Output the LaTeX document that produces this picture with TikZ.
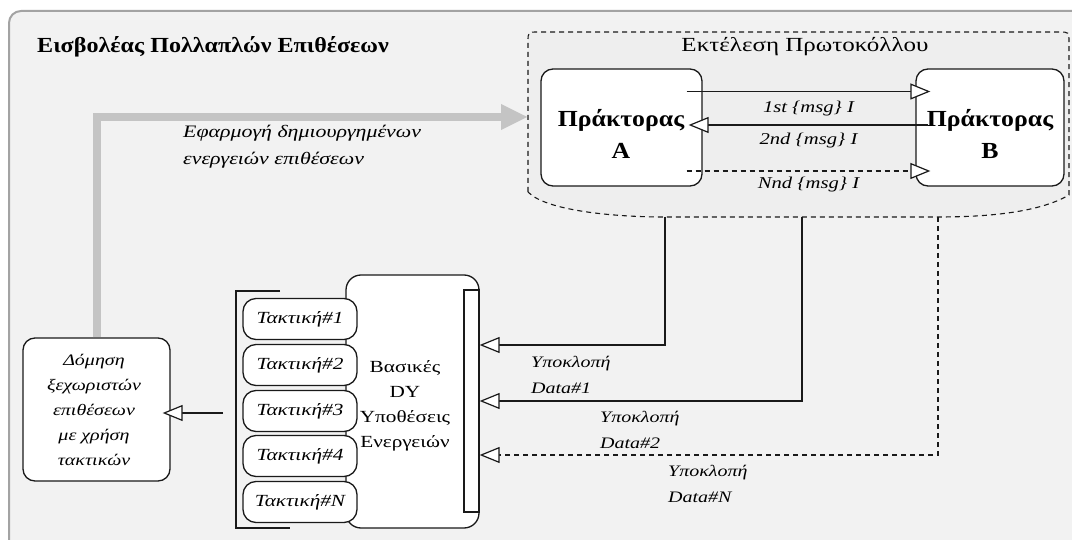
\documentclass[tikz,border=0pt]{standalone}
\usepackage{fontspec}
\setmainfont{Liberation Serif}[UprightFeatures={FakeStretch=1.25},
  BoldFeatures={FakeStretch=1.12}, ItalicFeatures={FakeStretch=1.25}]
\usetikzlibrary{arrows.meta}

\definecolor{framefill}{HTML}{F2F2F2}
\definecolor{frameline}{HTML}{A3A3A3}
\definecolor{protofill}{HTML}{EEEEEE}
\definecolor{flowgray}{HTML}{C4C4C4}
\definecolor{ink}{HTML}{1A1A1A}

\begin{document}
\begin{tikzpicture}[x=1pt,y=-1pt,
  roundbox/.style={draw=ink, line width=1.3pt, fill=white, rounded corners=12pt,
    inner sep=0pt, align=center},
  tactic/.style={roundbox, rounded corners=13pt, minimum width=114pt, minimum height=41pt,
    font=\fontsize{17}{18}\selectfont\itshape},
  agent/.style={inner sep=0pt, align=center, font=\fontsize{23}{32}\selectfont\bfseries},
  arr/.style={draw=ink, line width=1.2pt,
    -{Triangle[length=20pt,width=16pt,fill=white,line width=1.2pt]}},
  dashline/.style={dash pattern=on 5pt off 4pt},
  msg/.style={font=\fontsize{16.5}{18}\selectfont\itshape, inner sep=0pt},
  lbl/.style={font=\fontsize{16}{26}\selectfont\itshape, inner sep=0pt, align=left},
  flow/.style={draw=flowgray, line width=8pt, -{Triangle[length=27pt,width=24pt]}}
]
\useasboundingbox (0,0) rectangle (1072,540);
\clip (0,0) rectangle (1072,540);

% outer panel of the attacker
\filldraw[fill=framefill, draw=frameline, line width=2pt, rounded corners=12pt]
  (9,620) -- (9,11) -- (1120,11) -- (1120,620) -- cycle;
\node[anchor=west, inner sep=0pt, font=\fontsize{21.5}{22}\selectfont\bfseries] (title)
  at (37,47) {Εισβολέας Πολλαπλών Επιθέσεων};

% protocol execution region
\filldraw[fill=protofill, draw=ink, line width=1.1pt, dashline]
  (528,192) -- (528,42) .. controls (528,32) .. (538,32) -- (1059,32)
  .. controls (1069,32) .. (1069,42) -- (1069,195)
  .. controls (1040,212) and (990,217) .. (938,217) -- (665,217)
  .. controls (610,217) and (545,210) .. (528,192) -- cycle;
\coordinate (c1) at (665,217);
\coordinate (c2) at (802,217);
\coordinate (c3) at (938,217);
\coordinate (pin) at (528,117);
\node[inner sep=0pt, font=\fontsize{20}{22}\selectfont] (prototitle) at (805,47)
  {Εκτέλεση Πρωτοκόλλου};

% agents
\node[roundbox, minimum width=161pt, minimum height=117pt] (pa) at (621.5,127.5) {};
\node[roundbox, minimum width=148pt, minimum height=117pt] (pb) at (990,127.5) {};
\node[agent] (patext) at (621,134) {Πράκτορας\\A};
\node[agent] (pbtext) at (990,134) {Πράκτορας\\B};

% messages exchanged
\draw[arr] ([xshift=-16pt,yshift=36pt]pa.east) --
  node[msg, yshift=-17pt] (m1) {1st \{msg\} I} ([xshift=15pt,yshift=36pt]pb.west);
\draw[arr] ([xshift=13pt,yshift=2.5pt]pb.west) --
  node[msg, yshift=-16pt] (m2) {2nd \{msg\} I} ([xshift=-14pt,yshift=2.5pt]pa.east);
\draw[arr, dashline] ([xshift=-16pt,yshift=-43.5pt]pa.east) --
  node[msg, yshift=-14pt] (m3) {Nnd \{msg\} I} ([xshift=15pt,yshift=-43.5pt]pb.west);

% composing attacks
\node[roundbox, minimum width=147pt, minimum height=143pt] (dom) at (96.5,409.5) {};
\node[inner sep=0pt, align=center, font=\fontsize{16}{25}\selectfont\itshape] (domtext)
  at (94,410) {Δόμηση\\ξεχωριστών\\επιθέσεων\\με χρήση\\τακτικών};
\draw[flow] (dom.north) |- (pin);
\node[lbl, font=\fontsize{17.5}{27}\selectfont\itshape, anchor=west] (apply) at (183,146.5)
  {Εφαρμογή δημιουργημένων\\ενεργειών επιθέσεων};

% basic assumptions block
\node[roundbox, rounded corners=15pt, minimum width=133pt, minimum height=253pt] (core)
  at (412.5,401.5) {};
\node[draw=ink, fill=white, line width=1.3pt, minimum width=15pt, minimum height=222pt,
  inner sep=0pt] (bar) at (471.5,401) {};
\node[inner sep=0pt, align=center, font=\fontsize{17}{25}\selectfont] (coretext)
  at (405,405.5) {Βασικές\\DY\\Υποθέσεις\\Ενεργειών};

% tactics
\node[tactic] (t1) at (300,319) {Τακτική\#1};
\node[tactic] (t2) at (300,365) {Τακτική\#2};
\node[tactic] (t3) at (300,411) {Τακτική\#3};
\node[tactic] (t4) at (300,456) {Τακτική\#4};
\node[tactic] (t5) at (300,502) {Τακτική\#N};
\draw[draw=ink, line width=1.3pt] (280,291) -- (236,291) -- (236,528) -- (290,528);
\coordinate (brk) at (223,413);
\draw[arr, shorten >=-8pt] (brk) -- (brk -| dom.east);

% intercepted data
\coordinate (in1) at ([yshift=56pt]bar.east);
\coordinate (in2) at (bar.east);
\coordinate (in3) at ([yshift=-54pt]bar.east);
\draw[arr] (c1) |- (in1);
\draw[arr] (c2) |- (in2);
\draw[arr, dashline] (c3) |- (in3);
\node[lbl, anchor=west] (d1) at (531,375) {Υποκλοπή\\Data\#1};
\node[lbl, anchor=west] (d2) at (600,430) {Υποκλοπή\\Data\#2};
\node[lbl, anchor=west] (d3) at (668,484) {Υποκλοπή\\Data\#N};
\end{tikzpicture}
\end{document}
